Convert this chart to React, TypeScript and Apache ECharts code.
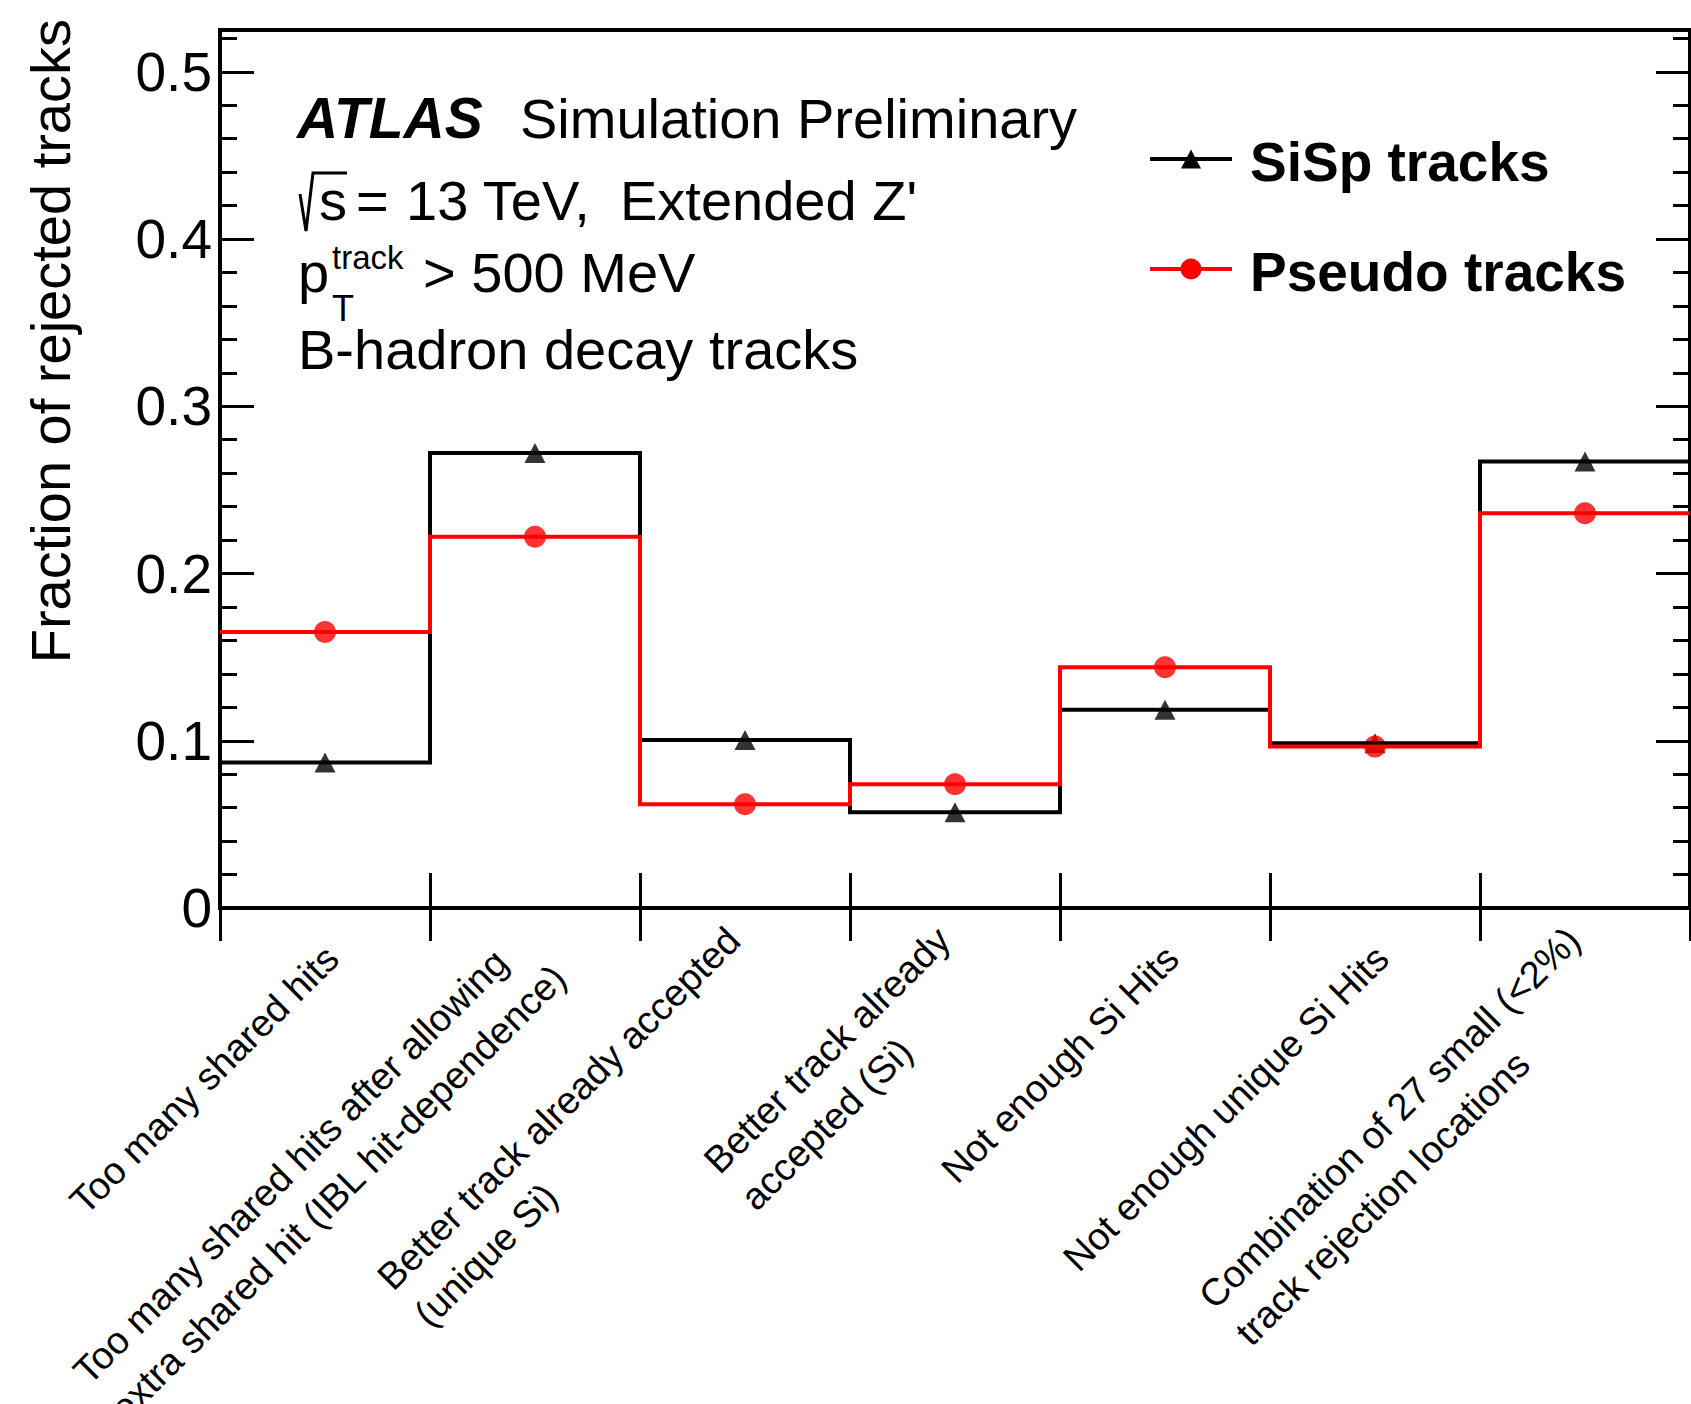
import React, { useEffect, useRef } from 'react';
import * as echarts from 'echarts';

// ---------- data ----------
const categories: string[][] = [
  ['Too many shared hits'],
  ['Too many shared hits after allowing', 'extra shared hit (IBL hit-dependence)'],
  ['Better track already accepted', '(unique Si)'],
  ['Better track already', 'accepted (Si)'],
  ['Not enough Si Hits'],
  ['Not enough unique Si Hits'],
  ['Combination of 27 small (<2%)', 'track rejection locations'],
];
const sispValues = [0.087, 0.272, 0.1005, 0.0572, 0.1185, 0.0985, 0.267];
const pseudoValues = [0.165, 0.222, 0.062, 0.074, 0.144, 0.0965, 0.236];
const yTickLabels = ['0', '0.1', '0.2', '0.3', '0.4', '0.5'];
const seriesNames = ['SiSp tracks', 'Pseudo tracks'];
const yTitle = 'Fraction of rejected tracks';

const FONT = "'Liberation Sans', Arial, Helvetica, sans-serif";
const LABEL_SIZE = 38;
const LABEL_LINE = 52;
const Y_MAX = 0.525;

const stepData = (vals: number[]) => [
  ...vals.map((v, i) => [i, v]),
  [vals.length, vals[vals.length - 1]],
];
const markerData = (vals: number[]) => vals.map((v, i) => [i + 0.5, v]);

const yAxisDef = (position: string, interval: number, len: number, labels: boolean) => ({
  type: 'value',
  position,
  min: 0,
  max: Y_MAX,
  interval,
  axisLine: { show: false },
  splitLine: { show: false },
  axisTick: { show: true, inside: true, length: len, lineStyle: { color: '#000', width: 3 } },
  axisLabel: labels
    ? {
        show: true,
        margin: 8,
        color: '#000',
        fontSize: 55,
        fontFamily: FONT,
        formatter: (v: number) => {
          const i = Math.round(v / 0.1);
          return Math.abs(v - i * 0.1) < 1e-6 && i < yTickLabels.length ? yTickLabels[i] : '';
        },
      }
    : { show: false },
});

const xAxisDef = (position: string, len: number) => ({
  type: 'value',
  position,
  min: 0,
  max: categories.length,
  interval: 1,
  axisLine: { show: false },
  splitLine: { show: false },
  axisLabel: { show: false },
  axisTick: { show: true, inside: true, length: len, lineStyle: { color: '#000', width: 3 } },
});

const txt = (text: string, x: number, y: number, size: number, extra: any = {}) => ({
  type: 'text',
  x,
  y,
  style: {
    text,
    fill: '#000',
    fontSize: size,
    fontFamily: FONT,
    align: 'left',
    verticalAlign: 'middle',
    ...extra,
  },
});

export default function App() {
  const ref = useRef<HTMLDivElement>(null);
  useEffect(() => {
    document.body.style.margin = '0';
    const el = ref.current!;
    const chart = echarts.init(el, undefined, { renderer: 'svg' });
    const lineStyle = (color: string) => ({ color, width: 4, join: 'miter', cap: 'butt' });
    chart.setOption({
      animation: false,
      backgroundColor: '#fff',
      grid: {
        left: 220,
        top: 30,
        width: 1470,
        height: 878,
        show: true,
        borderColor: '#000',
        borderWidth: 4,
        backgroundColor: 'transparent',
      },
      xAxis: [xAxisDef('bottom', 35), xAxisDef('top', 33)],
      yAxis: [
        yAxisDef('left', 0.1, 34, true),
        yAxisDef('left', 0.02, 17, false),
        yAxisDef('right', 0.1, 34, false),
        yAxisDef('right', 0.02, 17, false),
      ],
      series: [
        {
          name: seriesNames[0],
          type: 'line',
          step: 'end',
          symbol: 'none',
          data: stepData(sispValues),
          lineStyle: lineStyle('#000'),
        },
        {
          name: seriesNames[0],
          type: 'scatter',
          symbol: 'triangle',
          symbolSize: [21, 20],
          data: markerData(sispValues),
          itemStyle: { color: '#000' },
        },
        {
          name: seriesNames[1],
          type: 'line',
          step: 'end',
          symbol: 'none',
          data: stepData(pseudoValues),
          lineStyle: lineStyle('#ff0000'),
        },
        {
          name: seriesNames[1],
          type: 'scatter',
          symbol: 'circle',
          symbolSize: 22,
          data: markerData(pseudoValues),
          itemStyle: { color: '#ff0000' },
        },
      ],
    });

    const ctx = document.createElement('canvas').getContext('2d')!;
    ctx.font = `${LABEL_SIZE}px 'Liberation Sans'`;
    const labelGraphics = categories.map((lines, i) => {
      const p = chart.convertToPixel({ xAxisIndex: 0, yAxisIndex: 0 }, [i + 0.5, 0]) as number[];
      const maxW = Math.max(...lines.map((l) => ctx.measureText(l).width));
      return {
        type: 'group',
        x: p[0] + 7,
        y: p[1] + 44,
        rotation: Math.PI / 4,
        children: lines.map((l, j) => ({
          type: 'text',
          x: -maxW,
          y: (j - (lines.length - 1) / 2) * LABEL_LINE,
          style: {
            text: l,
            fill: '#000',
            fontSize: LABEL_SIZE,
            fontFamily: FONT,
            align: 'left',
            verticalAlign: 'middle',
          },
        })),
      };
    });

    const legendGraphics = [
      { type: 'line', shape: { x1: 1150, y1: 159, x2: 1232, y2: 159 }, style: { stroke: '#000', lineWidth: 4 } },
      {
        type: 'polygon',
        shape: { points: [[1181, 168.5], [1201, 168.5], [1191, 149.5]] },
        style: { fill: '#000' },
      },
      txt(seriesNames[0], 1250, 162, 55, { fontWeight: 'bold' }),
      { type: 'line', shape: { x1: 1150, y1: 269, x2: 1232, y2: 269 }, style: { stroke: '#ff0000', lineWidth: 4 } },
      { type: 'circle', shape: { cx: 1191, cy: 269, r: 10.5 }, style: { fill: '#ff0000' } },
      txt(seriesNames[1], 1250, 272, 55, { fontWeight: 'bold' }),
    ];

    const textGraphics = [
      txt('ATLAS', 297, 118, 57, { fontWeight: 'bold', fontStyle: 'italic' }),
      txt('Simulation Preliminary', 520, 118, 56),
      {
        type: 'polyline',
        shape: { points: [[300, 194], [306, 231], [313, 173], [347, 173]] },
        style: { stroke: '#000', lineWidth: 3, fill: 'none' },
      },
      txt('s', 319, 200, 56),
      txt('=', 356, 200, 56),
      txt('13 TeV,', 406, 200, 56),
      txt("Extended Z'", 620, 200, 56),
      txt('p', 298, 272, 56),
      txt('track', 332, 257, 33),
      txt('T', 332, 308, 36),
      txt('> 500 MeV', 423, 272, 56),
      txt('B-hadron decay tracks', 298, 349, 56),
      {
        type: 'text',
        x: 50,
        y: 19,
        rotation: Math.PI / 2,
        style: {
          text: yTitle,
          fill: '#000',
          fontSize: 56,
          fontFamily: FONT,
          align: 'right',
          verticalAlign: 'middle',
        },
      },
    ];

    chart.setOption({ graphic: [...textGraphics, ...legendGraphics, ...labelGraphics] });
    return () => chart.dispose();
  }, []);
  return <div ref={ref} style={{ width: 1691, height: 1404 }} />;
}
